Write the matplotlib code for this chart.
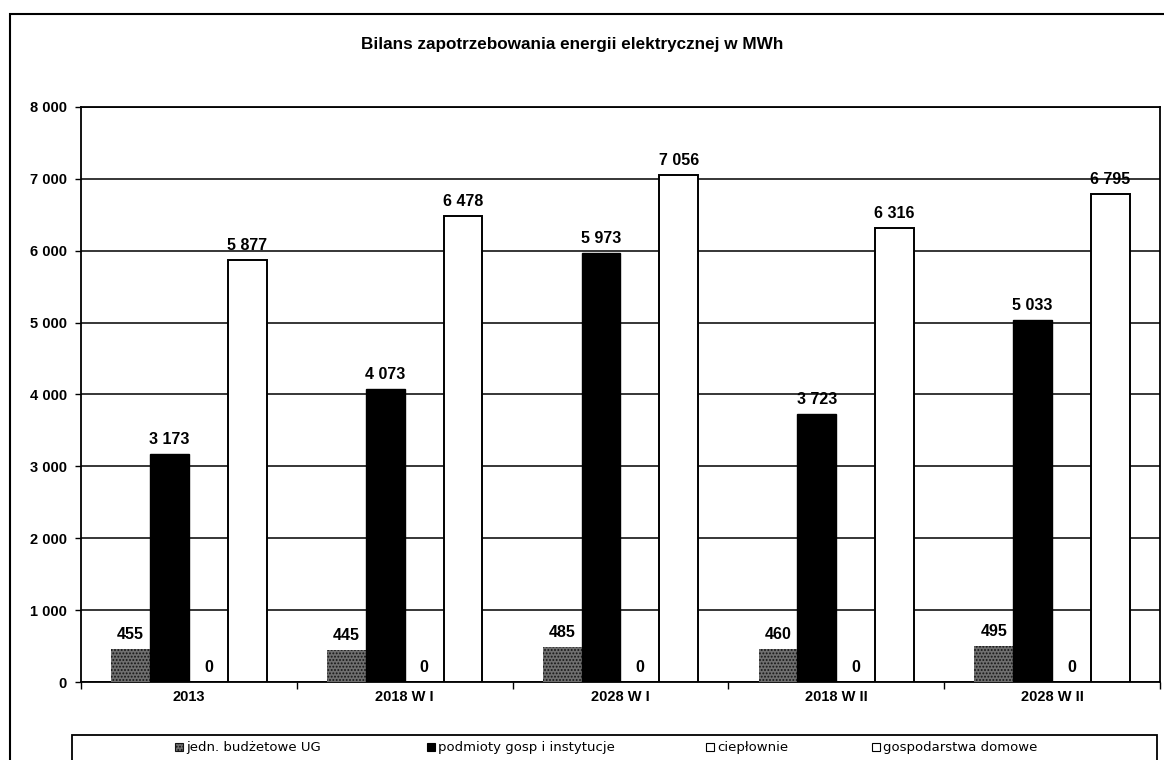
import matplotlib
matplotlib.use("Agg")
import matplotlib.pyplot as plt
import numpy as np
from matplotlib.patches import Rectangle, Patch
from matplotlib.ticker import FuncFormatter, FixedLocator

plt.rcParams['font.family'] = ['Liberation Sans', 'DejaVu Sans']
plt.rcParams['hatch.linewidth'] = 0.9

title = "Bilans zapotrzebowania energii elektrycznej w MWh"
categories = ["2013", "2018 W I", "2028 W I", "2018 W II", "2028 W II"]
series_names = ["jedn. budżetowe UG", "podmioty gosp i instytucje",
                "ciepłownie", "gospodarstwa domowe"]
budzetowe = [455, 445, 485, 460, 495]
podmioty = [3173, 4073, 5973, 3723, 5033]
cieplownie = [0, 0, 0, 0, 0]
gospodarstwa = [5877, 6478, 7056, 6316, 6795]
y_ticks = [0, 1000, 2000, 3000, 4000, 5000, 6000, 7000, 8000]

W, H = 1164, 760
fig = plt.figure(figsize=(W / 100, H / 100), dpi=100)
fig.patch.set_facecolor("white")

ax = fig.add_axes([81 / W, 1 - 682 / H, (1160 - 81) / W, (682 - 107) / H])

def fmt(v):
    return f"{int(round(v)):,}".replace(",", " ")

x = np.arange(len(categories))
bw = 0.18
styles = [
    dict(facecolor="#6f6f6f", edgecolor="#151515", hatch=".....", linewidth=0),
    dict(facecolor="black", edgecolor="black", linewidth=1.0),
    dict(facecolor="white", edgecolor="black", linewidth=1.4),
    dict(facecolor="white", edgecolor="black", linewidth=1.4),
]
data = [budzetowe, podmioty, cieplownie, gospodarstwa]
for i, (vals, st) in enumerate(zip(data, styles)):
    bars = ax.bar(x + (i - 1.5) * bw, vals, bw, zorder=3, **st)
    ax.bar_label(bars, labels=[fmt(v) for v in vals], padding=5,
                 fontsize=11.5, fontweight="bold", zorder=4)

ax.set_xlim(-0.5, len(categories) - 0.5)
ax.set_ylim(y_ticks[0], y_ticks[-1])
ax.set_yticks(y_ticks)
ax.yaxis.set_major_formatter(FuncFormatter(lambda v, p: fmt(v)))
ax.grid(axis="y", color="black", linewidth=1.1, zorder=1)
ax.set_axisbelow(True)

ax.set_xticks(x)
ax.set_xticklabels(categories)
ax.xaxis.set_minor_locator(FixedLocator(np.arange(-0.5, len(categories), 1.0)))
ax.tick_params(axis="x", which="major", length=0, pad=6, labelsize=10.5)
ax.tick_params(axis="x", which="minor", length=5, width=1.0, direction="out")
ax.tick_params(axis="y", length=4, width=1.0, direction="out", pad=6,
               labelsize=10.5)
for lbl in ax.get_xticklabels() + ax.get_yticklabels():
    lbl.set_fontweight("bold")
for s in ax.spines.values():
    s.set_linewidth(1.3)
    s.set_color("black")

fig.text(572 / W, 1 - 45 / H, title, ha="center", va="center",
         fontsize=12.3, fontweight="bold")

# outer chart frame (continues past the canvas on the right and bottom)
fig.patches.append(Rectangle((10 / W, -0.2), 1.2, 1 - 14 / H + 0.2,
                             transform=fig.transFigure, fill=False,
                             edgecolor="black", linewidth=1.5, clip_on=False))
# legend box
fig.patches.append(Rectangle((72 / W, -0.2), (1157 - 72) / W, 1 - 735 / H + 0.2,
                             transform=fig.transFigure, fill=False,
                             edgecolor="black", linewidth=1.3, clip_on=False))

legend_x = [175, 427, 706, 872]
for name, st, lx in zip(series_names, styles, legend_x):
    st2 = dict(st)
    st2["linewidth"] = 0.8
    h = Patch(label=name, **st2)
    fig.legend(handles=[h], loc="center left",
               bbox_to_anchor=(lx / W, 1 - 748 / H), frameon=False,
               prop={"family": "DejaVu Sans", "size": 9.5},
               handlelength=0.6, handleheight=0.6,
               handletextpad=0.25, borderpad=0, borderaxespad=0)

fig.savefig("out.png", dpi=100)
